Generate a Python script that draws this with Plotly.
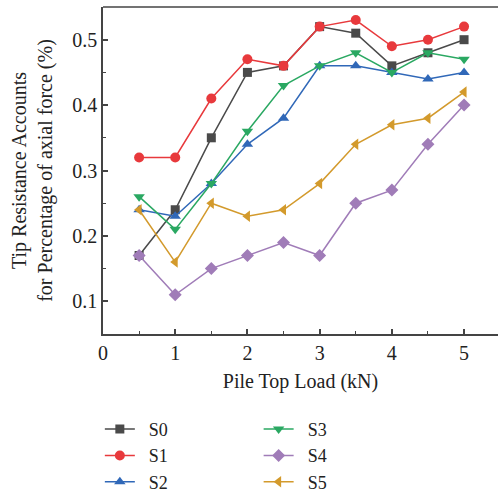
import plotly.graph_objects as go

loads = [0.5, 1, 1.5, 2, 2.5, 3, 3.5, 4, 4.5, 5]
s0 = [0.17, 0.24, 0.35, 0.45, 0.46, 0.52, 0.51, 0.46, 0.48, 0.50]
s1 = [0.32, 0.32, 0.41, 0.47, 0.46, 0.52, 0.53, 0.49, 0.50, 0.52]
s2 = [0.24, 0.23, 0.28, 0.34, 0.38, 0.46, 0.46, 0.45, 0.44, 0.45]
s3 = [0.26, 0.21, 0.28, 0.36, 0.43, 0.46, 0.48, 0.45, 0.48, 0.47]
s4 = [0.17, 0.11, 0.15, 0.17, 0.19, 0.17, 0.25, 0.27, 0.34, 0.40]
s5 = [0.24, 0.16, 0.25, 0.23, 0.24, 0.28, 0.34, 0.37, 0.38, 0.42]

names = ["S0", "S1", "S2", "S3", "S4", "S5"]
series = [s0, s1, s2, s3, s4, s5]
colors = ["#4a4a4a", "#e8393c", "#3068b8", "#2aa862", "#a07cb8", "#d39a2c"]
symbols = ["square", "circle", "triangle-up", "triangle-down", "diamond", "triangle-left"]
sizes = [9, 10, 10, 10, 10, 10]
legends = ["legend", "legend", "legend", "legend2", "legend2", "legend2"]

font = "Liberation Serif"
fs = 20
fig = go.Figure()
for n, s, c, m, sz, lg in zip(names, series, colors, symbols, sizes, legends):
    fig.add_trace(go.Scatter(x=loads, y=s, name="\u00a0\u00a0" + n, mode="lines+markers",
                             line=dict(color=c, width=1.5),
                             marker=dict(symbol=m, size=sz, color=c),
                             legend=lg, legendgroup=n))

axis_common = dict(showline=True, linecolor="#444", linewidth=1.5, ticks="inside",
                   ticklen=5, tickwidth=1.5, tickcolor="#444", showgrid=False,
                   zeroline=False, mirror=False,
                   tickfont=dict(family=font, size=fs, color="#222"))
fig.update_xaxes(range=[0, 5.47], tickvals=[0, 1, 2, 3, 4, 5],
                 minor=dict(dtick=0.5, ticks="inside", ticklen=3, tickwidth=1.2, tickcolor="#444"),
                 title=dict(text="Pile Top Load (kN)", font=dict(family=font, size=fs, color="#222"), standoff=11),
                 **axis_common)
fig.update_yaxes(range=[0.05, 0.55], tickvals=[0.1, 0.2, 0.3, 0.4, 0.5],
                 minor=dict(dtick=0.05, ticks="inside", ticklen=3, tickwidth=1.2, tickcolor="#444"),
                 title=dict(text="Tip Resistance Accounts<br>for Percentage of axial force (%)",
                            font=dict(family=font, size=fs, color="#222"), standoff=14),
                 **axis_common)

# top border line
fig.add_shape(type="line", xref="paper", yref="paper", x0=0, x1=1, y0=1, y1=1,
              line=dict(color="#444", width=1.5))

leg_common = dict(font=dict(family=font, size=18, color="#222"), bgcolor="rgba(0,0,0,0)",
                  xanchor="left", yanchor="top", orientation="v", tracegroupgap=0)
fig.update_layout(
    width=498, height=493,
    margin=dict(l=103, r=0, t=7, b=159, autoexpand=False),
    plot_bgcolor="white", paper_bgcolor="white",
    legend=dict(x=-0.008, y=-0.235, **leg_common),
    legend2=dict(x=0.394, y=-0.235, **leg_common),
)
fig.write_html("out.html")
